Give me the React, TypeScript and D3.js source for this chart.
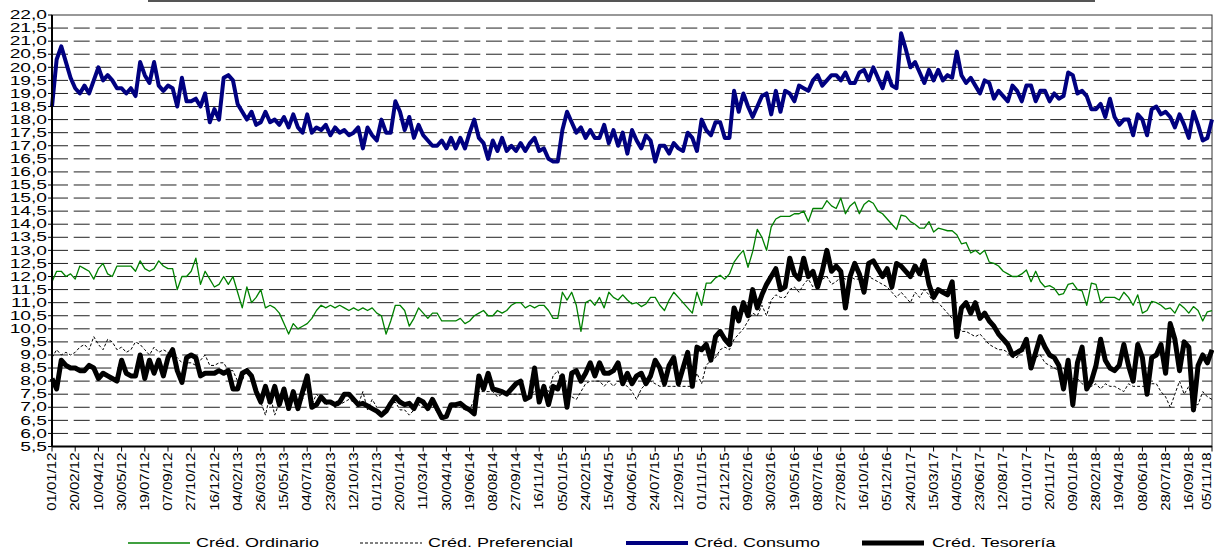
import React from 'react';
import * as d3 from 'd3';

// one value every 10 days, starting on the first axis date
const startDate = '01/01/12';
const stepDays = 10;

const tickLabels = [
  '01/01/12', '20/02/12', '10/04/12', '30/05/12', '19/07/12', '07/09/12', '27/10/12', '16/12/12',
  '04/02/13', '26/03/13', '15/05/13', '04/07/13', '23/08/13', '12/10/13', '01/12/13', '20/01/14',
  '11/03/14', '30/04/14', '19/06/14', '08/08/14', '27/09/14', '16/11/14', '05/01/15', '24/02/15',
  '15/04/15', '04/06/15', '24/07/15', '12/09/15', '01/11/15', '21/12/15', '09/02/16', '30/03/16',
  '19/05/16', '08/07/16', '27/08/16', '16/10/16', '05/12/16', '24/01/17', '15/03/17', '04/05/17',
  '23/06/17', '12/08/17', '01/10/17', '20/11/17', '09/01/18', '28/02/18', '19/04/18', '08/06/18',
  '28/07/18', '16/09/18', '05/11/18',
];

const ordinario = [
  11.8, 12.2, 12.2, 12.0, 12.1, 11.9, 12.4, 12.3, 12.2, 11.9,
  12.3, 12.5, 12.1, 12.0, 12.4, 12.4, 12.4, 12.4, 12.2, 12.6,
  12.3, 12.2, 12.3, 12.6, 12.4, 12.3, 12.3, 11.5, 12.0, 12.0,
  12.2, 12.7, 11.7, 12.2, 11.9, 11.6, 11.7, 12.0, 11.7, 12.0,
  11.4, 10.8, 11.6, 11.0, 11.2, 11.5, 10.8, 10.9, 10.8, 10.6,
  10.2, 9.8, 10.2, 10.0, 10.1, 10.2, 10.4, 10.7, 10.9, 10.8,
  10.9, 10.8, 10.9, 10.8, 10.7, 10.8, 10.7, 10.8, 10.7, 10.8,
  10.6, 10.5, 9.8, 10.3, 10.9, 10.9, 10.7, 10.1, 10.4, 10.8,
  10.6, 10.4, 10.6, 10.6, 10.3, 10.3, 10.3, 10.3, 10.4, 10.2,
  10.3, 10.5, 10.6, 10.7, 10.5, 10.5, 10.7, 10.6, 10.7, 10.9,
  11.0, 11.0, 10.8, 10.9, 10.8, 10.9, 10.9, 10.7, 10.4, 10.4,
  11.4, 11.1, 11.4, 10.9, 9.9, 11.0, 11.1, 10.9, 11.2, 10.8,
  11.4, 11.2, 11.1, 11.3, 11.1, 10.95, 11.0, 10.85, 10.95, 11.2,
  11.2, 10.9, 10.7, 11.1, 11.4, 11.2, 11.0, 10.8, 10.6, 11.4,
  10.9, 11.75, 11.75, 11.95, 12.05, 11.9, 12.1, 12.55, 12.8, 13.0,
  12.35, 12.95, 13.8, 13.5, 13.0, 13.9, 14.2, 14.3, 14.3, 14.3,
  14.4, 14.4, 14.5, 14.1, 14.6, 14.6, 14.6, 14.9, 14.7, 14.6,
  15.0, 14.4, 14.7, 14.85, 14.4, 14.75, 14.9, 14.8, 14.5, 14.4,
  14.2, 14.0, 13.8, 14.35, 14.3, 14.1, 14.0, 13.85, 13.85, 14.1,
  13.7, 13.85, 13.8, 13.75, 13.75, 13.6, 13.25, 13.3, 12.9, 13.0,
  12.85, 13.0, 12.55, 12.5, 12.4, 12.2, 12.1, 12.0, 12.0, 12.1,
  12.25, 11.8, 12.2, 11.8, 11.6, 11.65, 11.55, 11.3, 11.35, 11.7,
  11.75, 11.5, 11.45, 10.9, 11.75, 11.7, 11.0, 11.2, 11.2, 11.2,
  11.1, 11.4, 11.2, 10.9, 11.3, 10.6, 10.7, 11.05, 11.0, 10.9,
  10.75, 10.8, 10.6, 10.95, 10.8, 10.6, 10.85, 10.7, 10.3, 10.65, 10.7,
];

const preferencial = [
  8.9, 9.2, 9.0, 9.1, 9.0, 9.1, 9.3, 9.4, 9.2, 9.7,
  9.4, 9.2, 9.6, 9.5, 9.2, 9.3, 9.1, 9.2, 9.5, 9.4,
  9.2, 9.0, 9.3, 9.1, 9.2, 9.1, 8.9, 8.9, 8.7, 8.7,
  8.7, 8.6, 8.8, 9.0, 8.6, 8.6, 8.7, 8.7, 8.4, 8.4,
  8.0, 8.0, 8.5, 8.2, 7.8, 7.2, 6.7, 7.5, 6.7, 7.2,
  7.3, 7.0, 7.3, 7.0, 7.3, 7.9, 7.1, 7.5, 7.3, 7.1,
  7.2, 7.0, 7.1, 7.2, 7.3, 7.2, 7.1, 7.6, 6.9, 7.3,
  7.0, 6.8, 7.0, 7.1, 7.2, 6.9, 6.9, 6.7, 6.9, 7.1,
  7.0, 6.9, 7.1, 6.8, 6.6, 6.7, 7.1, 7.0, 7.0, 6.9,
  6.9, 7.3, 7.6, 7.6, 7.6, 7.6, 7.4, 7.5, 7.5, 7.5,
  7.5, 7.5, 7.4, 7.5, 7.6, 7.6, 7.8, 7.6, 8.2, 8.4,
  7.9, 7.6, 7.4, 7.3, 7.6, 7.9, 8.0, 8.0, 8.0, 7.8,
  8.0, 7.8, 8.0, 7.9, 7.8, 7.6, 7.3, 7.7, 7.9, 8.0,
  7.9, 7.8, 7.8, 7.8, 7.8, 7.8, 7.8, 7.8, 7.8, 8.3,
  7.9, 8.6, 8.8, 8.9, 9.2, 9.3, 9.2, 9.6, 9.8, 10.0,
  10.3, 10.6, 10.5, 10.9, 10.5, 11.1, 11.3, 11.2, 11.2, 11.5,
  11.6, 11.4, 11.7, 11.9, 11.6, 11.8, 11.9, 12.0, 11.7, 11.8,
  12.0, 11.9, 12.0, 11.9, 11.9, 11.9, 12.0, 11.9, 11.8, 11.7,
  11.6, 11.4, 11.2, 11.4, 11.2, 11.0, 11.4, 11.2, 11.5, 11.3,
  11.0, 11.0, 10.8, 10.6, 10.4, 10.2, 9.9, 9.9, 9.8, 9.7,
  9.8, 9.6, 9.4, 9.3, 9.2, 9.2, 9.1, 8.9, 8.9, 9.2,
  9.1, 8.8, 8.9, 9.0, 8.7, 8.6, 8.5, 8.4, 8.5, 8.2,
  8.1, 8.1, 7.9, 7.8, 7.8, 7.9, 7.7, 7.9, 7.8, 7.8,
  7.7, 7.6, 7.9, 7.8, 7.8, 7.8, 7.8, 7.9, 7.9, 7.6,
  7.4, 7.0, 7.5, 8.0, 7.5, 7.8, 7.1, 7.1, 7.6, 7.4, 7.3,
];

const consumo = [
  18.5, 20.3, 20.8, 20.2, 19.6, 19.2, 19.0, 19.3, 19.0, 19.5,
  20.0, 19.5, 19.7, 19.5, 19.2, 19.2, 19.0, 19.2, 18.9, 20.2,
  19.7, 19.4, 20.2, 19.3, 19.1, 19.3, 19.2, 18.5, 19.6, 18.7,
  18.7, 18.8, 18.5, 19.0, 17.9, 18.4, 18.0, 19.6, 19.7, 19.5,
  18.6, 18.3, 18.0, 18.3, 17.8, 17.9, 18.3, 17.9, 18.0, 17.8,
  18.1, 17.7, 18.2, 17.7, 17.5, 18.2, 17.5, 17.7, 17.6, 17.8,
  17.4, 17.7, 17.5, 17.6, 17.4, 17.5, 17.7, 16.9, 17.7, 17.4,
  17.2, 18.0, 17.5, 17.5, 18.7, 18.3, 17.6, 18.1, 17.3, 17.8,
  17.4, 17.2, 17.0, 17.0, 17.2, 16.9, 17.3, 16.9, 17.3, 16.9,
  17.5, 18.0, 17.3, 17.1, 16.5, 17.2, 16.8, 17.3, 16.8, 17.0,
  16.8, 17.1, 16.8, 17.1, 17.3, 16.8, 16.9, 16.5, 16.4, 16.4,
  17.6, 18.3, 17.9, 17.5, 17.7, 17.3, 17.6, 17.3, 17.3, 17.8,
  17.1, 17.6, 17.0, 17.5, 16.7, 17.6, 17.2, 16.9, 17.4, 17.2,
  16.4, 17.0, 17.0, 16.7, 17.1, 16.9, 16.8, 17.5, 17.3, 16.8,
  18.0, 17.6, 17.4, 17.9, 17.9, 17.3, 17.3, 19.1, 18.3, 19.0,
  18.5, 18.1, 18.5, 18.9, 19.0, 18.2, 19.1, 18.3, 19.1, 19.0,
  18.7, 19.3, 19.2, 19.1, 19.5, 19.7, 19.3, 19.5, 19.7, 19.7,
  19.5, 19.8, 19.4, 19.4, 19.8, 19.9, 19.5, 20.0, 19.6, 19.2,
  19.8, 19.3, 19.2, 21.3, 20.7, 20.0, 20.2, 19.8, 19.4, 19.9,
  19.5, 19.9, 19.5, 19.7, 19.6, 20.6, 19.7, 19.4, 19.6, 19.3,
  19.0, 19.5, 19.4, 18.8, 19.1, 18.9, 18.7, 19.3, 19.1, 18.7,
  19.3, 19.3, 18.7, 19.1, 19.1, 18.7, 19.0, 18.8, 18.9, 19.8,
  19.7, 19.0, 19.1, 18.9, 18.4, 18.4, 18.6, 18.1, 18.8, 18.1,
  17.8, 18.0, 18.0, 17.4, 18.2, 18.0, 17.4, 18.4, 18.5, 18.2,
  18.3, 18.1, 17.7, 18.2, 17.8, 17.3, 18.3, 17.8, 17.2, 17.3, 18.0,
];

const tesoreria = [
  8.1, 7.7, 8.8, 8.6, 8.5, 8.5, 8.4, 8.4, 8.6, 8.5,
  8.1, 8.3, 8.2, 8.1, 8.0, 8.8, 8.3, 8.2, 8.2, 9.0,
  8.1, 8.8, 8.3, 8.8, 8.2, 8.9, 9.2, 8.4, 7.95, 8.9,
  9.0, 8.9, 8.2, 8.3, 8.3, 8.3, 8.4, 8.3, 8.4, 7.7,
  7.7, 8.3, 8.4, 8.2, 7.6, 7.2, 7.8, 7.2, 7.8, 7.1,
  7.7, 6.95, 7.6, 6.95, 7.6, 8.2, 7.0, 7.1, 7.4, 7.2,
  7.2, 7.1, 7.2, 7.5, 7.5, 7.3, 7.1, 7.15, 7.05, 6.95,
  6.85, 6.7, 6.85, 7.15, 7.4, 7.2, 7.1, 7.15, 6.95, 7.3,
  7.2, 6.95, 7.3, 6.95, 6.6, 6.65, 7.1, 7.1, 7.15, 7.0,
  6.9, 6.75, 8.2, 7.7, 8.3, 7.7, 7.65, 7.6, 7.5, 7.7,
  7.9, 8.0, 7.3, 7.4, 8.5, 7.2, 7.8, 7.1, 7.8, 7.7,
  8.2, 7.0, 8.3, 8.4, 8.0, 8.3, 8.7, 8.2, 8.7, 8.3,
  8.3, 8.4, 8.7, 7.9, 8.3, 7.9, 8.2, 8.3, 7.9, 8.2,
  8.8, 8.5, 7.9, 8.6, 8.9, 7.9, 8.5, 9.1, 7.8, 9.3,
  9.2, 9.4, 8.8, 9.7, 9.9, 9.6, 9.4, 10.8, 10.3, 11.0,
  10.5, 11.5, 10.8, 11.3, 11.7, 12.0, 12.3, 11.5, 11.6, 12.7,
  12.1, 11.9, 12.7, 12.0, 12.2, 11.6, 12.2, 13.0, 12.2, 12.4,
  12.2, 10.8, 12.0, 12.5, 12.1, 11.4, 12.5, 12.6, 12.3, 12.0,
  12.3, 11.6, 12.5, 12.4, 12.2, 12.0, 12.4, 12.1, 12.6, 11.7,
  11.2, 11.5, 11.4, 11.3, 11.8, 9.7, 10.8, 11.0, 10.6, 11.0,
  10.4, 10.6, 10.3, 10.1, 9.8, 9.6, 9.4, 9.0, 9.1, 9.2,
  9.6, 8.5, 9.1, 9.7, 9.3, 9.0, 8.9, 8.6, 7.7, 8.8,
  7.1, 8.7, 9.3, 7.7, 8.0, 8.6, 9.6, 8.8, 8.5, 8.4,
  8.6, 9.4, 8.6, 8.0, 9.4, 8.9, 7.5, 8.9, 9.0, 9.4,
  8.3, 10.2, 9.6, 8.4, 9.5, 9.3, 6.9, 8.6, 9.0, 8.7, 9.2,
];

const seriesNames = ['Créd. Ordinario', 'Créd. Preferencial', 'Créd. Consumo', 'Créd. Tesorería'];

const W = 1214;
const H = 552;
const plot = { left: 52, right: 1212, top: 15, bottom: 446.5 };
const FONT = 'Arial, "Liberation Sans", sans-serif';

const parseDate = d3.utcParse('%d/%m/%y');
const start = parseDate(startDate) as Date;
const ticks = tickLabels.map(t => parseDate(t) as Date);

const x = d3.scaleUtc()
  .domain([ticks[0], ticks[ticks.length - 1]])
  .range([plot.left, plot.right]);

const y = d3.scaleLinear()
  .domain([5.5, 22])
  .range([plot.bottom, plot.top]);

const yTicks = d3.range(5.5, 22.001, 0.5);
const fmt = (v: number) => v.toFixed(1).replace('.', ',');

const styles = [
  { color: '#008000', width: 1.3, dash: undefined },
  { color: '#000000', width: 1, dash: '3,2' },
  { color: '#000080', width: 4, dash: undefined },
  { color: '#000000', width: 5, dash: undefined },
];

const allSeries = [ordinario, preferencial, consumo, tesoreria];

const line = d3.line<number>()
  .x((_, i) => x(d3.utcDay.offset(start, i * stepDays)))
  .y(d => y(d));

const legendX = [128, 360, 626, 862];

export default function App() {
  return (
    <svg width={W} height={H} style={{ position: 'absolute', left: 0, top: 0, background: '#fff' }}
      fontFamily={FONT}>
      <rect width={W} height={H} fill="#fff" />
      {/* remnant of title box */}
      <line x1={148} x2={1095} y1={1} y2={1} stroke="#555" strokeWidth={2} />

      {/* grid */}
      {yTicks.filter(v => v > 5.5 && v < 22).map(v => (
        <line key={v} x1={plot.left} x2={plot.right} y1={y(v)} y2={y(v)}
          stroke="#222" strokeWidth={1} strokeDasharray="16,5.7" />
      ))}
      <rect x={plot.left} y={plot.top} width={plot.right - plot.left} height={plot.bottom - plot.top}
        fill="none" stroke="#333" strokeWidth={1} />

      {/* series */}
      {allSeries.map((s, k) => (
        <path key={k} d={line(s) || ''} fill="none" stroke={styles[k].color}
          strokeWidth={styles[k].width} strokeDasharray={styles[k].dash}
          strokeLinejoin="round" />
      ))}

      {/* axes */}
      <line x1={plot.left} x2={plot.left} y1={plot.top} y2={plot.bottom} stroke="#000" strokeWidth={2} />
      <line x1={plot.left} x2={plot.right} y1={plot.bottom} y2={plot.bottom} stroke="#000" strokeWidth={2} />
      {yTicks.map(v => (
        <g key={v}>
          <line x1={plot.left - 4} x2={plot.left} y1={y(v)} y2={y(v)} stroke="#000" strokeWidth={1} />
          <text transform={`translate(47,${y(v)}) scale(1.6,1)`} textAnchor="end" dy="0.35em"
            fontSize={12} fill="#000">{fmt(v)}</text>
        </g>
      ))}
      {ticks.map((d, i) => {
        const tx = x(d);
        // keep the last label inside the page edge
        const lx = Math.min(tx, W - 7);
        return (
          <g key={i}>
            <line x1={tx} x2={tx} y1={plot.bottom} y2={plot.bottom + 5} stroke="#000" strokeWidth={1} />
            <text transform={`translate(${lx},${plot.bottom + 6}) rotate(-90) scale(1.25,1)`}
              textAnchor="end" dy="0.35em" fontSize={12} fill="#000">{tickLabels[i]}</text>
          </g>
        );
      })}

      {/* legend */}
      {seriesNames.map((n, k) => (
        <g key={n} transform={`translate(${legendX[k]},543)`}>
          <line x1={0} x2={62} y1={0} y2={0} stroke={styles[k].color}
            strokeWidth={styles[k].width} strokeDasharray={styles[k].dash} />
          <text transform={`translate(${k === 3 ? 70 : 68},0) scale(1.5,1)`} dy="0.35em"
            fontSize={12} fill="#000">{n}</text>
        </g>
      ))}
    </svg>
  );
}
